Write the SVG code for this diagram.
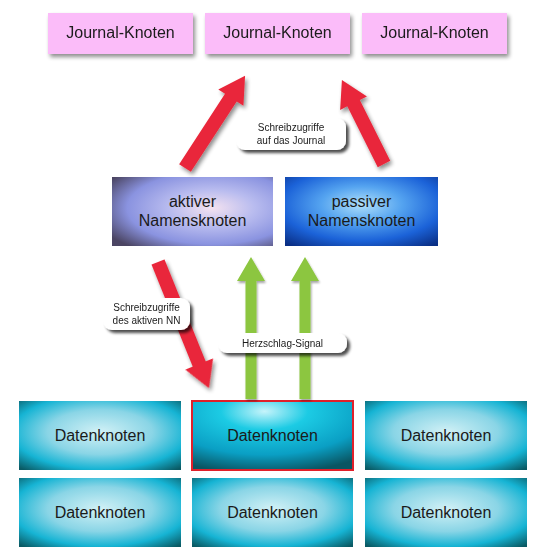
<svg xmlns="http://www.w3.org/2000/svg" width="540" height="560" viewBox="0 0 540 560">
<style>
.t{font-family:"Liberation Sans","Noto Sans",Arial,sans-serif;fill:#1a1a1a;text-anchor:middle}
.big{font-size:16px}
.small{font-size:10px}
.journal{fill:#fbbcf9}
.pill{fill:#ffffff}
.red{fill:#e9283a}
.green{fill:#8cc63f}
</style>
<defs>
<filter id="sh" x="-20%" y="-20%" width="150%" height="160%">
<feGaussianBlur in="SourceAlpha" stdDeviation="2"/>
<feOffset dx="2" dy="3"/>
<feComponentTransfer><feFuncA type="linear" slope="0.45"/></feComponentTransfer>
<feMerge><feMergeNode/><feMergeNode in="SourceGraphic"/></feMerge>
</filter>
<filter id="shp" x="-20%" y="-30%" width="150%" height="180%">
<feGaussianBlur in="SourceAlpha" stdDeviation="1.5"/>
<feOffset dx="3" dy="3"/>
<feComponentTransfer><feFuncA type="linear" slope="0.7"/></feComponentTransfer>
<feMerge><feMergeNode/><feMergeNode in="SourceGraphic"/></feMerge>
</filter>
<filter id="shs" x="-20%" y="-20%" width="150%" height="160%">
<feGaussianBlur in="SourceAlpha" stdDeviation="1.2"/>
<feOffset dx="1" dy="2"/>
<feComponentTransfer><feFuncA type="linear" slope="0.35"/></feComponentTransfer>
<feMerge><feMergeNode/><feMergeNode in="SourceGraphic"/></feMerge>
</filter>
<radialGradient id="gAkt" cx="0.62" cy="0.45" r="0.75">
<stop offset="0" stop-color="#f4e2f0"/>
<stop offset="0.35" stop-color="#b9bcef"/>
<stop offset="0.7" stop-color="#8a93e0"/>
<stop offset="1" stop-color="#4b4563"/>
</radialGradient>
<radialGradient id="gPas" cx="0.5" cy="0.4" r="0.75">
<stop offset="0" stop-color="#b0e0fa"/>
<stop offset="0.35" stop-color="#55a4f0"/>
<stop offset="0.7" stop-color="#1b62d8"/>
<stop offset="1" stop-color="#0a2f85"/>
</radialGradient>
<radialGradient id="gDat" cx="0.5" cy="0.45" r="0.72">
<stop offset="0" stop-color="#d2f1f6"/>
<stop offset="0.45" stop-color="#8ad5e6"/>
<stop offset="0.75" stop-color="#16b4d4"/>
<stop offset="1" stop-color="#0a5a64"/>
</radialGradient>
<radialGradient id="gDatA" cx="0.45" cy="0.15" r="0.9">
<stop offset="0" stop-color="#c6f4fb"/>
<stop offset="0.3" stop-color="#1ccbe4"/>
<stop offset="0.7" stop-color="#0a9fc4"/>
<stop offset="1" stop-color="#0a5562"/>
</radialGradient>
</defs>

<g id="journal1" filter="url(#sh)"><rect class="journal" x="48" y="13" width="145" height="41"/><text class="t big" x="120.5" y="38">Journal-Knoten</text></g>
<g id="journal2" filter="url(#sh)"><rect class="journal" x="205" y="13" width="145" height="41"/><text class="t big" x="277.5" y="38">Journal-Knoten</text></g>
<g id="journal3" filter="url(#sh)"><rect class="journal" x="362" y="13" width="145" height="41"/><text class="t big" x="434.5" y="38">Journal-Knoten</text></g>

<g id="aktiverNN"><rect x="112" y="177" width="161" height="69" fill="url(#gAkt)"/><text class="t big" x="192.5" y="207">aktiver</text><text class="t big" x="192.5" y="226">Namensknoten</text></g>
<g id="passiverNN"><rect x="285" y="177" width="153" height="69" fill="url(#gPas)"/><text class="t big" x="361.5" y="207">passiver</text><text class="t big" x="361.5" y="226">Namensknoten</text></g>

<g id="daten1"><rect x="19" y="401" width="162" height="69" fill="url(#gDat)"/><text class="t big" x="100" y="441">Datenknoten</text></g>
<g id="daten2"><rect x="192" y="401" width="161" height="69" fill="url(#gDatA)" stroke="#e0202a" stroke-width="2"/><text class="t big" x="272.5" y="441">Datenknoten</text></g>
<g id="daten3"><rect x="365" y="401" width="162" height="69" fill="url(#gDat)"/><text class="t big" x="446" y="441">Datenknoten</text></g>
<g id="daten4"><rect x="19" y="478" width="162" height="69" fill="url(#gDat)"/><text class="t big" x="100" y="518">Datenknoten</text></g>
<g id="daten5"><rect x="192" y="478" width="161" height="69" fill="url(#gDat)"/><text class="t big" x="272.5" y="518">Datenknoten</text></g>
<g id="daten6"><rect x="365" y="478" width="162" height="69" fill="url(#gDat)"/><text class="t big" x="446" y="518">Datenknoten</text></g>

<g id="connectors">
<g filter="url(#sh)">
<path class="red" transform="translate(185,168) rotate(-56.9)" d="M0,-7 L84,-7 L84,-15 L110,0 L84,15 L84,7 L0,7 Z"/>
<path class="red" transform="translate(384,164) rotate(-116.6)" d="M0,-7 L68,-7 L68,-15 L94,0 L68,15 L68,7 L0,7 Z"/>
<path class="red" transform="translate(158,262) rotate(68)" d="M0,-7 L110,-7 L110,-15 L136,0 L110,15 L110,7 L0,7 Z"/>
</g>
<g filter="url(#shs)">
<path class="green" d="M245.5,399 L245.5,281 L237,281 L251,257 L265,281 L256.5,281 L256.5,399 Z"/>
<path class="green" d="M299.5,399 L299.5,281 L291,281 L305,257 L319,281 L310.5,281 L310.5,399 Z"/>
</g>
</g>

<g id="label1" filter="url(#shp)"><rect class="pill" x="236" y="118" width="110" height="32" rx="9"/><text class="t small" x="291" y="131">Schreibzugriffe</text><text class="t small" x="291" y="144">auf das Journal</text></g>
<g id="label2" filter="url(#shp)"><rect class="pill" x="103" y="298" width="87" height="32" rx="9"/><text class="t small" x="146.5" y="311">Schreibzugriffe</text><text class="t small" x="146.5" y="324">des aktiven NN</text></g>
<g id="label3" filter="url(#shp)"><rect class="pill" x="218" y="333" width="129" height="20" rx="9"/><text class="t small" x="282.5" y="347">Herzschlag-Signal</text></g>
</svg>
